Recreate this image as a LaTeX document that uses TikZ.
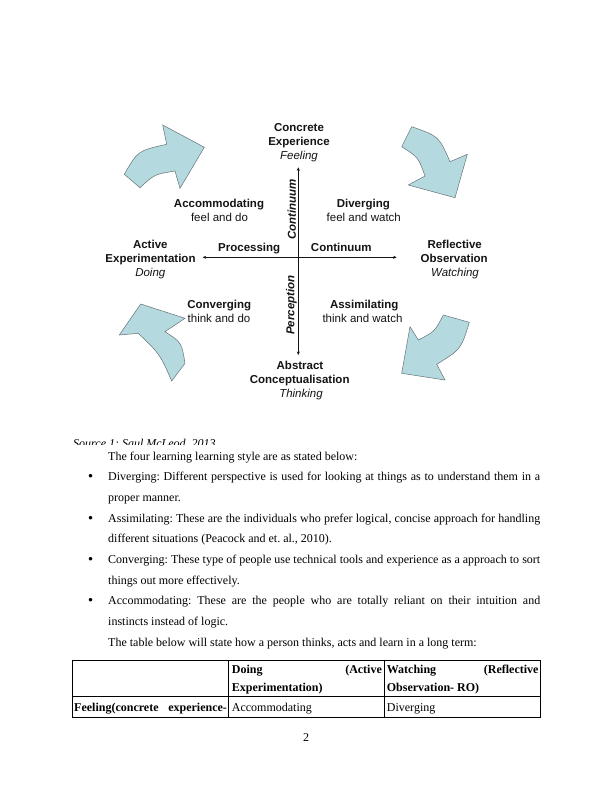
\documentclass[tikz,border=0pt]{standalone}
\usepackage{fontspec}
\setmainfont{Liberation Serif}
\newfontfamily\arialf{Liberation Sans}
\usetikzlibrary{arrows.meta}
\definecolor{arrowfill}{RGB}{180,218,223}
\definecolor{arrowline}{RGB}{100,115,118}
\definecolor{dtext}{RGB}{20,20,20}
\frenchspacing
\begin{document}
\begin{tikzpicture}[x=1pt,y=-1pt,
  dg/.style={font=\arialf\fontsize{11.5}{14}\selectfont, text=dtext, inner sep=0pt, anchor=base},
  dgb/.style={dg, font=\arialf\fontsize{11.5}{14}\selectfont\bfseries},
  dgi/.style={dg, font=\arialf\fontsize{11.5}{14}\selectfont\itshape},
  dgbi/.style={dg, font=\arialf\fontsize{11.5}{14}\selectfont\bfseries\itshape, anchor=center, rotate=90},
  body/.style={font=\fontsize{12}{14}\selectfont, inner sep=0pt, anchor=base west},
  bodyb/.style={body, font=\fontsize{12}{14}\selectfont\bfseries},
  bul/.style={inner sep=0pt, anchor=base, font=\arialf\fontsize{13}{14}\selectfont},
  blockarrow/.style={fill=arrowfill, draw=arrowline, line width=0.5pt, line join=miter},
  axis/.style={draw=dtext, line width=0.5pt, -{Stealth[length=3.5pt,width=3pt]}},
  tbl/.style={draw=black, line width=0.6pt}
]
\useasboundingbox (0,0) rectangle (612,792);
\fill[white] (0,0) rectangle (612,792);

% ---- block arrows ----
% top-left
\draw[blockarrow] (124.3,174.3) .. controls (137.9,150.7) .. (166.7,144.3)
  -- (162.7,125) -- (204.3,147.3) -- (180,188.3) -- (175,171)
  .. controls (154.5,174.3) .. (140,187.7) -- cycle;
% top-right
\draw[blockarrow] (411.7,126.7) .. controls (438.8,136.2) .. (450,161.7)
  -- (467.3,154.3) -- (455,197.7) -- (408.3,185) -- (425,176)
  .. controls (418.3,157.3) .. (401.7,146.7) -- cycle;
% bottom-left
\draw[blockarrow] (140.7,304) -- (185,318.3) -- (165,331.7)
  .. controls (181.6,342.5) .. (185,363.3) -- (171.7,381)
  .. controls (160,354.2) .. (138.3,333.3) -- (119.3,335) -- cycle;
% bottom-right
\draw[blockarrow] (443.3,315) -- (469.3,322.3)
  .. controls (461,349.3) .. (436.7,364.3) -- (445,380) -- (401.7,373.3)
  -- (410,326.7) -- (418.3,340) .. controls (434.8,331.5) .. (443.3,315) -- cycle;

% ---- axes ----
\coordinate (ctr) at (298.3,257.3);
\coordinate (axtop) at (298.3,167.3);
\coordinate (axbot) at (298.3,355);
\coordinate (axleft) at (202.7,257.3);
\coordinate (axright) at (396.7,257.3);
\draw[axis] (ctr) -- (axtop);
\draw[axis] (ctr) -- (axbot);
\draw[axis] (ctr) -- (axleft);
\draw[axis] (ctr) -- (axright);

% ---- diagram labels ----
\node[dgb] (ce1) at (299,131) {Concrete};
\node[dgb] (ce2) at (299,145) {Experience};
\node[dgi] (ce3) at (299,159) {Feeling};

\node[dgb] (ac1) at (150.3,248) {Active};
\node[dgb] (ac2) at (150.5,262) {Experimentation};
\node[dgi] (ac3) at (150.3,276) {Doing};

\node[dgb] (ro1) at (454.7,248) {Reflective};
\node[dgb] (ro2) at (454.2,262) {Observation};
\node[dgi] (ro3) at (455,276) {Watching};

\node[dgb] (ab1) at (300,369) {Abstract};
\node[dgb] (ab2) at (299.7,383) {Conceptualisation};
\node[dgi] (ab3) at (301,397) {Thinking};

\node[dgb] (acc1) at (219,207.5) {Accommodating};
\node[dg] (acc2) at (219.5,221.5) {feel and do};
\node[dgb] (div1) at (363.3,207.5) {Diverging};
\node[dg] (div2) at (363.8,221.5) {feel and watch};
\node[dgb] (con1) at (219.2,308) {Converging};
\node[dg] (con2) at (219,322) {think and do};
\node[dgb] (ass1) at (364.2,308) {Assimilating};
\node[dg] (ass2) at (362.5,322) {think and watch};

\node[dgb] (proc) at (249.2,251) {Processing};
\node[dgb] (cont) at (341.3,251) {Continuum};
\node[dgbi] (vcont) at (291.7,209.5) {Continuum};
\node[dgbi] (perc) at (291.3,305) {Perception};

% ---- caption (partly hidden) ----
\begin{scope}
\clip (60,430) rectangle (320,444.5);
\node[body, font=\fontsize{12}{14}\selectfont\itshape] (cap) at (73,447) {Source 1: Saul McLeod, 2013};
\end{scope}

% ---- body text ----
\node[body] (l0) at (108,460) {The four learning learning style are as stated below:};
\node[bul] (b1) at (90.7,480.7) {•};
\node[body] (l1) at (108,480.7) {\makebox[432pt][s]{Diverging: Different perspective is used for looking at things as to understand them in a}};
\node[body] (l2) at (108,501.4) {proper manner.};
\node[bul] (b2) at (90.7,522.1) {•};
\node[body] (l3) at (108,522.1) {\makebox[432pt][s]{Assimilating: These are the individuals who prefer logical, concise approach for handling}};
\node[body] (l4) at (108,542.8) {different situations (Peacock and et. al., 2010).};
\node[bul] (b3) at (90.7,563.5) {•};
\node[body] (l5) at (108,563.5) {\makebox[432pt][s]{Converging: These type of people use technical tools and experience as a approach to sort}};
\node[body] (l6) at (108,584.2) {things out more effectively.};
\node[bul] (b4) at (90.7,604.9) {•};
\node[body] (l7) at (108,604.9) {\makebox[432pt][s]{Accommodating: These are the people who are totally reliant on their intuition and}};
\node[body] (l8) at (108,625.6) {instincts instead of logic.};
\node[body] (l9) at (108,646.3) {The table below will state how a person thinks, acts and learn in a long term:};

% ---- table ----
\draw[tbl] (72.7,660) rectangle (540.7,717.5);
\draw[tbl] (228.3,660) -- (228.3,717.5);
\draw[tbl] (384,660) -- (384,717.5);
\draw[tbl] (72.7,696) -- (540.7,696);
\node[bodyb] (t1) at (231.7,673.5) {\makebox[150pt][s]{Doing (Active}};
\node[bodyb] (t2) at (231.7,691.5) {Experimentation)};
\node[bodyb] (t3) at (386.7,673.5) {\makebox[151.6pt][s]{Watching (Reflective}};
\node[bodyb] (t4) at (386.7,691.5) {Observation- RO)};
\node[bodyb] (t5) at (74,711.5) {\makebox[152.7pt][s]{Feeling(concrete experience-}};
\node[body] (t6) at (231.7,711.5) {Accommodating};
\node[body] (t7) at (386.7,711.5) {Diverging};

% ---- page number ----
\node[body, anchor=base] (pg) at (306,741.3) {2};
\end{tikzpicture}
\end{document}
